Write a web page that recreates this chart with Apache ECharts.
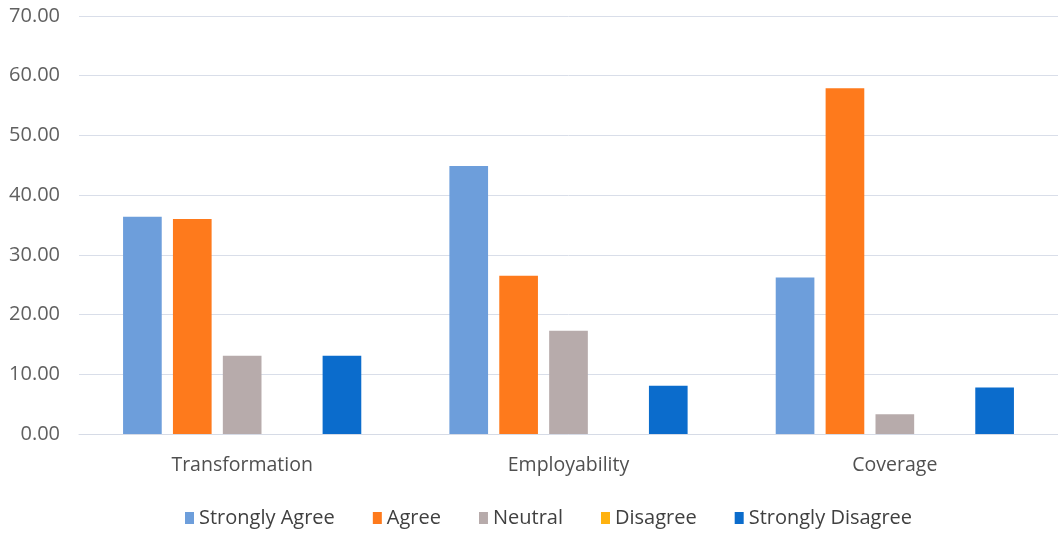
<!DOCTYPE html>
<html>
<head>
<meta charset="utf-8">
<script src="https://cdn.jsdelivr.net/npm/echarts@6/dist/echarts.min.js"></script>
<style>html,body{margin:0;padding:0;background:#fff;}#c{width:1058px;height:535px;}</style>
</head>
<body>
<div id="c"></div>
<script>
const categories = ['Transformation', 'Employability', 'Coverage'];
const seriesNames = ['Strongly Agree', 'Agree', 'Neutral', 'Disagree', 'Strongly Disagree'];
const stronglyAgree = [36.4, 44.9, 26.2];
const agree = [36.0, 26.5, 57.9];
const neutral = [13.1, 17.3, 3.3];
const disagree = [0, 0, 0];
const stronglyDisagree = [13.1, 8.1, 7.8];
const yTicks = [0, 10, 20, 30, 40, 50, 60, 70];

const values = [stronglyAgree, agree, neutral, disagree, stronglyDisagree];
const colors = ['#6d9edb', '#fe7a1c', '#b7abab', '#ffb20f', '#0b6ccc'];
const font = '"Open Sans", Lato, sans-serif';

const chart = echarts.init(document.getElementById('c'), null, {renderer: 'canvas'});
chart.setOption({
  animation: false,
  color: colors,
  textStyle: {fontFamily: font},
  grid: {left: 79, right: -4, top: 16, bottom: 101, containLabel: false},
  legend: {
    bottom: 2,
    left: 180,
    itemWidth: 9,
    itemHeight: 12,
    itemGap: 38,
    icon: 'rect',
    textStyle: {fontSize: 20, color: '#404040', fontFamily: font},
    data: seriesNames
  },
  xAxis: {
    type: 'category',
    data: categories,
    axisLine: {show: true, lineStyle: {color: '#d6dbe6', width: 1}},
    axisTick: {show: false},
    axisLabel: {fontSize: 19.5, color: '#505050', margin: 21, fontFamily: font}
  },
  yAxis: {
    type: 'value',
    min: yTicks[0],
    max: yTicks[yTicks.length - 1],
    interval: 10,
    axisLine: {show: false},
    axisTick: {show: false},
    splitLine: {lineStyle: {color: '#d9dee9', width: 1}},
    axisLabel: {fontSize: 20, color: '#606060', margin: 19, fontFamily: font,
      formatter: v => v.toFixed(2)}
  },
  series: seriesNames.map((n, i) => ({
    name: n,
    type: 'bar',
    data: values[i],
    barGap: '29%',
    barCategoryGap: '27%'
  }))
});
</script>
</body>
</html>
